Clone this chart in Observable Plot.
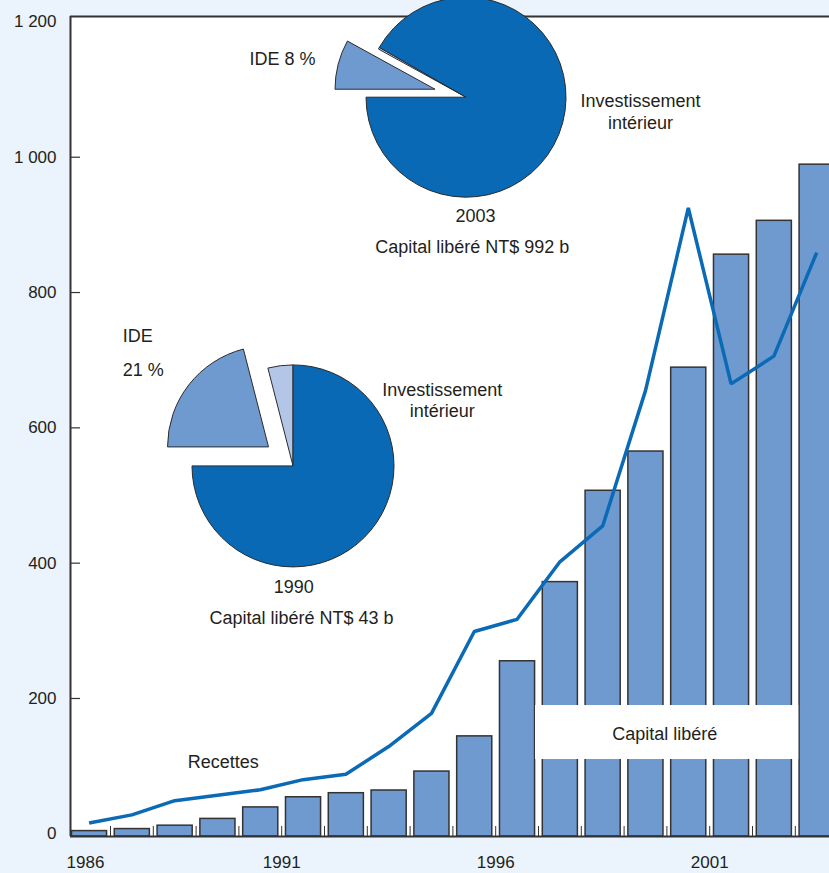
<!DOCTYPE html>
<html>
<head>
<meta charset="utf-8">
<script src="https://cdn.jsdelivr.net/npm/d3@7"></script>
<script src="https://cdn.jsdelivr.net/npm/@observablehq/plot@0.6"></script>
<style>
  html, body { margin: 0; padding: 0; background: #ebf3fc; }
  #chart svg { display: block; }
</style>
</head>
<body>
<div id="chart"></div>
<script>
// ---------- data ----------
const years = [1986, 1987, 1988, 1989, 1990, 1991, 1992, 1993, 1994, 1995, 1996, 1997, 1998, 1999, 2000, 2001, 2002, 2003];
const capitalLibere = [4, 7, 12, 22, 39, 54, 60, 64, 92, 144, 255, 372, 507, 565, 689, 856, 906, 989];
const recettes = [16, 28, 49, 57, 65, 80, 88, 129, 178, 299, 317, 402, 455, 655, 925, 665, 706, 859];
const yTicks = [0, 200, 400, 600, 800, 1000, 1200];
const xTickLabels = [1986, 1991, 1996, 2001];
const pieCategories = ["IDE", "Autres", "Investissement intérieur"];
const pie1990 = [21, 4, 75];
const pie2003 = [8, 0.3, 91.7];

// ---------- layout / style ----------
const xDomain = [1986.0654, 2003.799];
const yDomain = [-4, 1208];
const barColor = "#6f9ad0";
const lineColor = "#0b6ab5";
const pieColors = [barColor, "#b3c6e7", "#0a69b4"];
const ink = "#231f20";
const axisInk = "#333333";
const fnum = d3.formatLocale({decimal: ",", thousands: "\u00a0", grouping: [3], currency: ["", ""]}).format(",d");

const bars = years.map((year, i) => ({year, value: capitalLibere[i]}));
const line = years.map((year, i) => ({year, value: recettes[i]}));

const pieLayouts = [
  {values: pie1990, cx: 1991.276, cy: 543, r: 101, explode: 31},
  {values: pie2003, cx: 1995.318, cy: 1088, r: 100, explode: 32}
];

const annotations = [
  {text: "IDE 8 %", x: 1991.02, y: 1147, anchor: "middle"},
  {text: "Investissement\nintérieur", x: 1999.383, y: 1068, anchor: "middle"},
  {text: "2003", x: 1995.528, y: 914, anchor: "middle"},
  {text: "Capital libéré NT$ 992 b", x: 1995.451, y: 868, anchor: "middle"},
  {text: "IDE", x: 1987.287, y: 735, anchor: "start"},
  {text: "21 %", x: 1987.287, y: 685, anchor: "start"},
  {text: "Investissement\nintérieur", x: 1994.75, y: 642, anchor: "middle"},
  {text: "1990", x: 1991.283, y: 365.5, anchor: "middle"},
  {text: "Capital libéré NT$ 43 b", x: 1991.463, y: 321, anchor: "middle"},
  {text: "Recettes", x: 1989.633, y: 108, anchor: "middle"},
  {text: "Capital libéré", x: 1999.951, y: 148.7, anchor: "middle"}
];
const labelBox = [{x1: 1996.93, x2: 2003.08, y1: 109.8, y2: 189.6}];

// custom pie mark, positioned through the chart's scales
function pieMark({values, cx, cy, r, explode}) {
  return (index, scales) => {
    const X = scales.x(cx), Y = scales.y(cy);
    const arcs = d3.pie().sort(null).startAngle(1.5 * Math.PI).endAngle(3.5 * Math.PI)(values);
    const arc = d3.arc().innerRadius(0).outerRadius(r);
    const g = d3.create("svg:g");
    arcs.forEach((a, i) => {
      const mid = (a.startAngle + a.endAngle) / 2;
      const off = pieCategories[i] === "IDE" ? explode : 0;
      g.append("path")
        .attr("d", arc(a))
        .attr("transform", `translate(${X + Math.sin(mid) * off},${Y - Math.cos(mid) * off})`)
        .attr("fill", pieColors[i])
        .attr("stroke", "#2b2b2b")
        .attr("stroke-width", 1)
        .attr("stroke-linejoin", "round");
    });
    return g.node();
  };
}

const pxPerYear = 759 / (xDomain[1] - xDomain[0]);
const pxPerUnit = 820 / (yDomain[1] - yDomain[0]);

const chart = Plot.plot({
  width: 829,
  height: 873,
  marginLeft: 70,
  marginRight: 0,
  marginTop: 16,
  marginBottom: 37,
  x: {domain: xDomain, axis: null},
  y: {domain: yDomain, axis: null},
  style: {background: "#ebf3fc", fontFamily: "'Liberation Sans', Arial, Helvetica, sans-serif", color: ink},
  marks: [
    Plot.frame({fill: "white", stroke: "none"}),
    Plot.rectY(bars, {x1: d => d.year + 0.1, x2: d => d.year + 0.92, y1: yDomain[0], y2: "value", fill: barColor, stroke: "#333", strokeWidth: 1.5}),
    Plot.ruleX(years.slice(1), {y1: yDomain[0], y2: yDomain[0] + 10 / pxPerUnit, stroke: axisInk, strokeWidth: 1}),
    Plot.ruleY(yTicks.slice(1, -1), {x1: xDomain[0], x2: xDomain[0] + 10 / pxPerYear, stroke: axisInk, strokeWidth: 1.2}),
    Plot.line(line, {x: d => d.year + 0.5, y: "value", stroke: lineColor, strokeWidth: 3.5, strokeLinejoin: "miter", strokeLinecap: "butt"}),
    Plot.rect(labelBox, {x1: "x1", x2: "x2", y1: "y1", y2: "y2", fill: "white"}),
    Plot.ruleX([xDomain[0]], {stroke: axisInk, strokeWidth: 2}),
    Plot.ruleY([yDomain[0], yDomain[1]], {stroke: axisInk, strokeWidth: 2}),
    ...pieLayouts.map(pieMark),
    Plot.text(annotations.filter(d => d.anchor === "middle"), {x: "x", y: "y", text: "text", fontSize: 18, fill: ink, lineHeight: 1.2, textAnchor: "middle"}),
    Plot.text(annotations.filter(d => d.anchor === "start"), {x: "x", y: "y", text: "text", fontSize: 18, fill: ink, textAnchor: "start"}),
    Plot.text(yTicks, {x: xDomain[0], y: d => d, text: d => fnum(d), fontSize: 17, fill: ink, textAnchor: "end", dx: -14}),
    Plot.text(xTickLabels, {x: d => Math.max(d, xDomain[0] + 0.35), y: yDomain[0], text: d => String(d), fontSize: 17, fill: ink, textAnchor: "middle", dy: 26})
  ]
});
document.getElementById("chart").appendChild(chart);
</script>
</body>
</html>
